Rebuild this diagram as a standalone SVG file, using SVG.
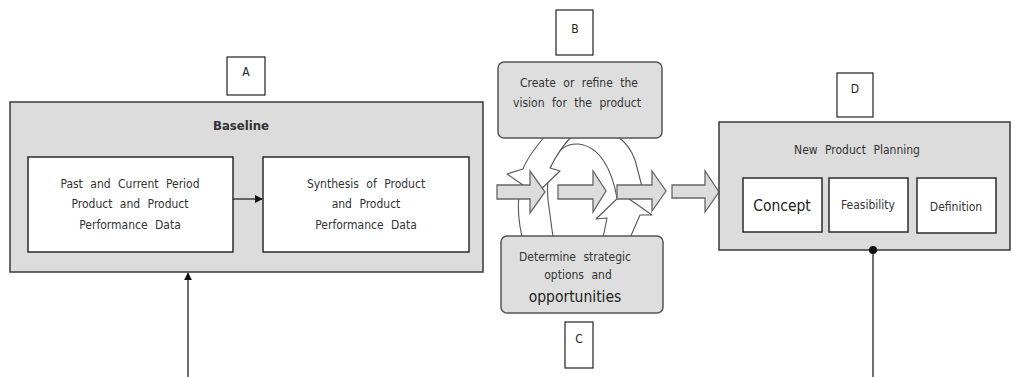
<svg xmlns="http://www.w3.org/2000/svg" width="1014" height="377" viewBox="0 0 1014 377">
  <defs>
    <marker id="tri" viewBox="0 0 10 10" refX="9" refY="5" markerWidth="8" markerHeight="8" markerUnits="userSpaceOnUse" orient="auto">
      <path d="M0,0 L10,5 L0,10 Z" fill="#111"/>
    </marker>
    <marker id="dot" viewBox="0 0 10 10" refX="5" refY="5" markerWidth="9" markerHeight="9" markerUnits="userSpaceOnUse">
      <circle cx="5" cy="5" r="4.5" fill="#111"/>
    </marker>
  </defs>
  <style>
    .panel { fill: #dcdcdc; stroke: #3a3a3a; stroke-width: 1.5; }
    .inner { fill: #ffffff; stroke: #2a2a2a; stroke-width: 1.5; }
    .tag { fill: #ffffff; stroke: #222; stroke-width: 1.2; }
    .round { fill: #dedede; stroke: #555; stroke-width: 1.5; }
    .swirl { fill: #ffffff; stroke: #555; stroke-width: 1.1; stroke-linejoin: round; }
    .block { fill: #dcdcdc; stroke: #666; stroke-width: 1.3; stroke-linejoin: miter; }
    .t { font-family: "DejaVu Sans Condensed", "DejaVu Sans", sans-serif; fill: #333; text-anchor: middle; font-size: 12px; word-spacing: 4px; }
    .big { font-size: 15.5px; fill: #222; word-spacing: 0; }
    .head { font-size: 13px; font-weight: bold; word-spacing: 0; }
    .lbl { font-family: "DejaVu Sans Condensed", "DejaVu Sans", sans-serif; fill: #222; text-anchor: middle; font-size: 12px; }
    .link { stroke: #222; stroke-width: 1.3; fill: none; }
  </style>

  <!-- Baseline -->
  <g id="label-a">
    <rect class="tag" x="227" y="57" width="38" height="38"/>
    <text class="lbl" x="246" y="76">A</text>
  </g>
  <g id="baseline">
    <rect class="panel" x="10" y="102" width="473" height="170"/>
    <text class="t head" x="241" y="130">Baseline</text>
  </g>
  <g id="past-data">
    <rect class="inner" x="28" y="157" width="205" height="95"/>
    <text class="t" x="130" y="188">Past and Current Period</text>
    <text class="t" x="130" y="208">Product and Product</text>
    <text class="t" x="130" y="229">Performance Data</text>
  </g>
  <g id="synthesis">
    <rect class="inner" x="263" y="157" width="206" height="95"/>
    <text class="t" x="366" y="188">Synthesis of Product</text>
    <text class="t" x="366" y="208">and Product</text>
    <text class="t" x="366" y="229">Performance Data</text>
  </g>

  <!-- Cycle between vision and strategy -->
  <g id="cycle">
    <path class="swirl" d="M522,237 C516,210 516,185 530,165 C545,140 560,130 580,128 C610,126 628,140 635,160 L645,198 L617,198 C612,170 600,146 578,144 C555,143 545,170 548,200 L553,237 Z"/>
    <path class="swirl" d="M545,136 C535,148 527,158 523,169 L507,174 L536,194 L560,171 L550,168 C555,158 562,146 572,136 Z"/>
    <path class="swirl" d="M603,238 L607,218 L596,219 L622,194 L652,215 L640,215 L630,238 Z"/>
  </g>

  <g id="label-b">
    <rect class="tag" x="556" y="10" width="37" height="45"/>
    <text class="lbl" x="575" y="33">B</text>
  </g>
  <g id="vision">
    <rect class="round" x="498" y="62" width="164" height="76" rx="6"/>
    <text class="t" x="579" y="87">Create or refine the</text>
    <text class="t" x="577" y="107">vision for the product</text>
  </g>
  <g id="strategy">
    <rect class="round" x="501" y="236" width="162" height="77" rx="6"/>
    <text class="t" x="575" y="261">Determine strategic</text>
    <text class="t" x="578" y="279">options and</text>
    <text class="t big" x="575" y="302">opportunities</text>
  </g>
  <g id="label-c">
    <rect class="tag" x="565" y="322" width="28" height="46"/>
    <text class="lbl" x="579" y="343">C</text>
  </g>

  <!-- Block arrows across the middle -->
  <g id="flow-arrows">
    <path class="block" d="M497,185 L530,185 L530,171 L545,192 L530,213 L530,199 L497,199 Z"/>
    <path class="block" d="M558,185 L593,185 L593,171 L606,191 L593,212 L593,199 L558,199 Z"/>
    <path class="block" d="M617,185 L652,185 L652,171 L666,191 L652,211 L652,199 L617,199 Z"/>
    <path class="block" d="M672,185 L705,185 L705,171 L719,192 L705,212 L705,198 L672,198 Z"/>
  </g>

  <!-- New Product Planning -->
  <g id="label-d">
    <rect class="tag" x="837" y="73" width="36" height="44"/>
    <text class="lbl" x="855" y="93">D</text>
  </g>
  <g id="planning">
    <rect class="panel" x="719" y="122" width="291" height="128"/>
    <text class="t" x="857" y="154">New Product Planning</text>
  </g>
  <g id="concept">
    <rect class="inner" x="743" y="178" width="79" height="54"/>
    <text class="t big" x="782" y="211">Concept</text>
  </g>
  <g id="feasibility">
    <rect class="inner" x="829" y="178" width="79" height="54"/>
    <text class="t" x="868" y="209">Feasibility</text>
  </g>
  <g id="definition">
    <rect class="inner" x="917" y="178" width="79" height="55"/>
    <text class="t" x="956" y="211">Definition</text>
  </g>

  <!-- Connectors -->
  <g id="connectors">
    <line class="link" x1="233" y1="199" x2="262" y2="199" marker-end="url(#tri)"/>
    <line class="link" x1="873" y1="250" x2="873" y2="377" marker-start="url(#dot)"/>
    <line class="link" x1="188" y1="377" x2="188" y2="273" marker-end="url(#tri)"/>
  </g>
</svg>
